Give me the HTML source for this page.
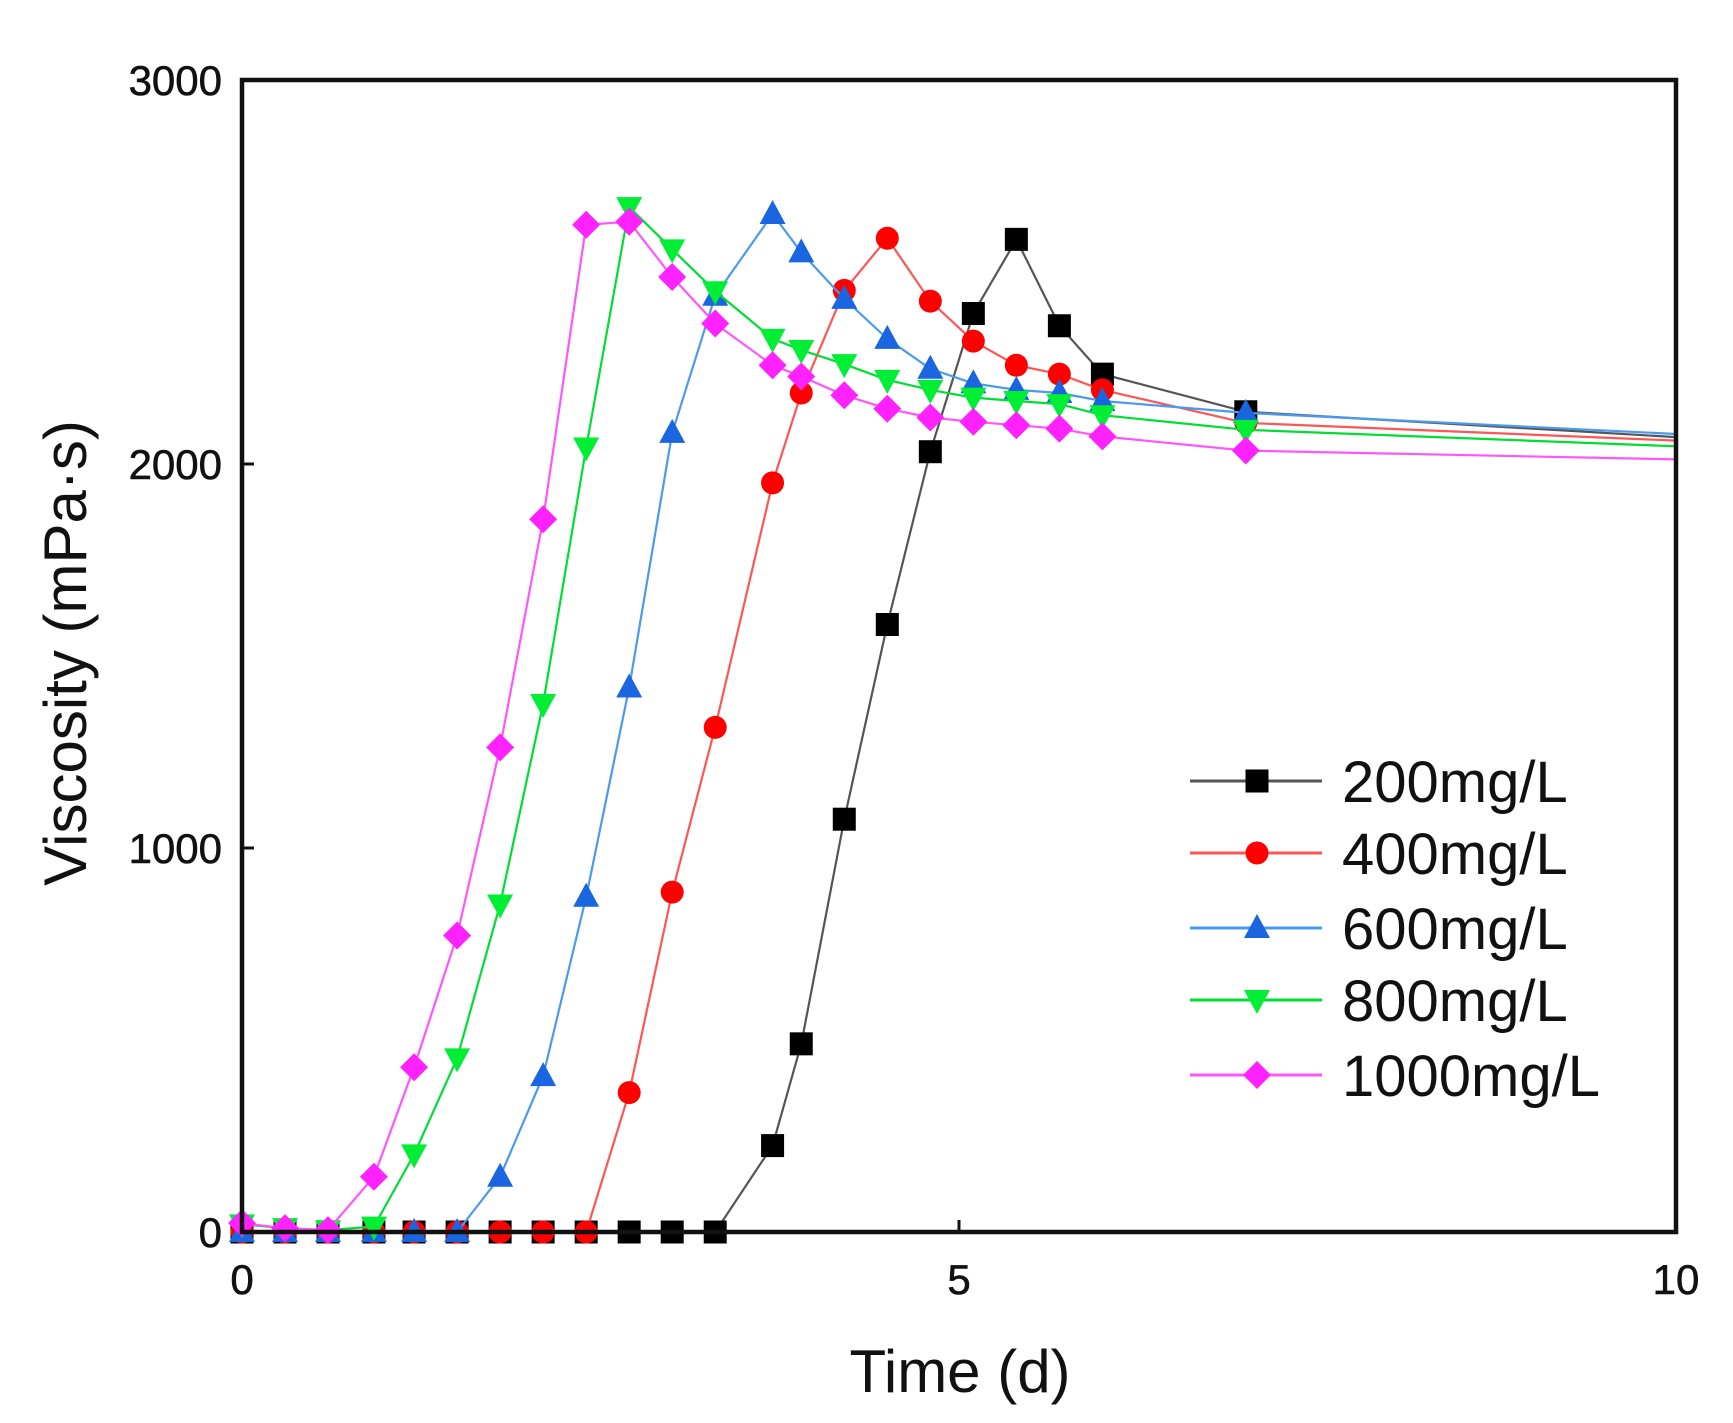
<!DOCTYPE html>
<html><head><meta charset="utf-8"><style>
html,body{margin:0;padding:0;background:#fff;}
svg{display:block;font-family:"Liberation Sans",Arial,sans-serif;}
</style></head><body>
<svg id="c" width="1733" height="1423" xmlns="http://www.w3.org/2000/svg">
<rect width="1733" height="1423" fill="#fff"/>
<g id="plot"></g>
<rect x="242" y="80" width="1434" height="1152" fill="none" stroke="#111" stroke-width="4.5"/>
<line x1="959" y1="1232" x2="959" y2="1220" stroke="#111" stroke-width="3"/>
<line x1="242" y1="848" x2="254" y2="848" stroke="#111" stroke-width="3"/>
<line x1="242" y1="464" x2="254" y2="464" stroke="#111" stroke-width="3"/>
<g font-size="42" fill="#111" text-anchor="end" stroke="#111" stroke-width="0.6">
<text x="222" y="95">3000</text>
<text x="222" y="479">2000</text>
<text x="222" y="863">1000</text>
<text x="222" y="1247">0</text>
</g>
<g font-size="42" fill="#111" text-anchor="middle" stroke="#111" stroke-width="0.6">
<text x="242" y="1294">0</text>
<text x="959" y="1294">5</text>
<text x="1676" y="1294">10</text>
</g>
<text x="960" y="1392" font-size="60" fill="#111" text-anchor="middle">Time (d)</text>
<text transform="translate(86,653) rotate(-90)" font-size="60" fill="#111" text-anchor="middle">Viscosity (mPa·s)</text>
<g id="leg"></g>
</svg>
<script>
var X0=242,XS=143.4,Y0=1232,YS=0.384;
var days=[0,0.3,0.6,0.92,1.2,1.5,1.8,2.1,2.4,2.7,3.0,3.3,3.7,3.9,4.2,4.5,4.8,5.1,5.4,5.7,6,7,10];
function z(n){var a=[];for(var i=0;i<n;i++)a.push(0);return a;}
var S=[
 {c:"#000",lc:"#555",m:"sq",lab:"200mg/L",v:z(12).concat([225,490,1075,1582,2032,2392,2585,2360,2234,2136,2070])},
 {c:"#ff0000",lc:"#ff5555",m:"ci",lab:"400mg/L",v:z(9).concat([363,885,1314,1951,2185,2452,2588,2424,2320,2257,2234,2193,2107,2061])},
 {c:"#1a66e0",lc:"#4a9af0",m:"tu",lab:"600mg/L",v:z(6).concat([144,406,873,1418,2081,2438,2651,2551,2430,2326,2248,2210,2193,2185,2164,2133,2078])},
 {c:"#00ee33",lc:"#00dd33",m:"td",lab:"800mg/L",v:[20,10,5,14,202,452,853,1375,2043,2669,2559,2450,2326,2297,2260,2219,2193,2173,2164,2156,2127,2089,2046]},
 {c:"#ff22ff",lc:"#ff55ff",m:"di",lab:"1000mg/L",v:[23,10,5,144,429,772,1262,1856,2623,2631,2487,2366,2257,2228,2179,2144,2121,2110,2101,2092,2072,2035,2012]}
];
function mk(t,x,y,c){var r=11.5;
 if(t=="sq")return '<rect x="'+(x-r)+'" y="'+(y-r)+'" width="'+2*r+'" height="'+2*r+'" fill="'+c+'"/>';
 if(t=="ci")return '<circle cx="'+x+'" cy="'+y+'" r="'+r+'" fill="'+c+'"/>';
 if(t=="tu")return '<polygon points="'+x+','+(y-14)+' '+(x+13)+','+(y+10)+' '+(x-13)+','+(y+10)+'" fill="'+c+'"/>';
 if(t=="td")return '<polygon points="'+x+','+(y+14)+' '+(x+13)+','+(y-10)+' '+(x-13)+','+(y-10)+'" fill="'+c+'"/>';
 return '<polygon points="'+x+','+(y-14)+' '+(x+14)+','+y+' '+x+','+(y+14)+' '+(x-14)+','+y+'" fill="'+c+'"/>';}
var h='';
S.forEach(function(s){var n=s.v.length,off=days.length-n,pts=[],m='';
 for(var i=0;i<n;i++){var x=X0+days[off+i]*XS,y=Y0-s.v[i]*YS;pts.push(x.toFixed(1)+','+y.toFixed(1));if(days[off+i]<10)m+=mk(s.m,x,y,s.c);}
 h+='<polyline points="'+pts.join(' ')+'" fill="none" stroke="'+s.lc+'" stroke-width="2.2"/>'+m;});
document.getElementById('plot').innerHTML=h;
var L='',ly=[781,853,928,1000,1075];
S.forEach(function(s,i){L+='<line x1="1190" x2="1322" y1="'+ly[i]+'" y2="'+ly[i]+'" stroke="'+s.lc+'" stroke-width="3"/>'+mk(s.m,1257,ly[i],s.c)+'<text x="1342" y="'+(ly[i]+21)+'" font-size="58" fill="#111">'+s.lab+'</text>';});
document.getElementById('leg').innerHTML=L;
</script>
</body></html>
